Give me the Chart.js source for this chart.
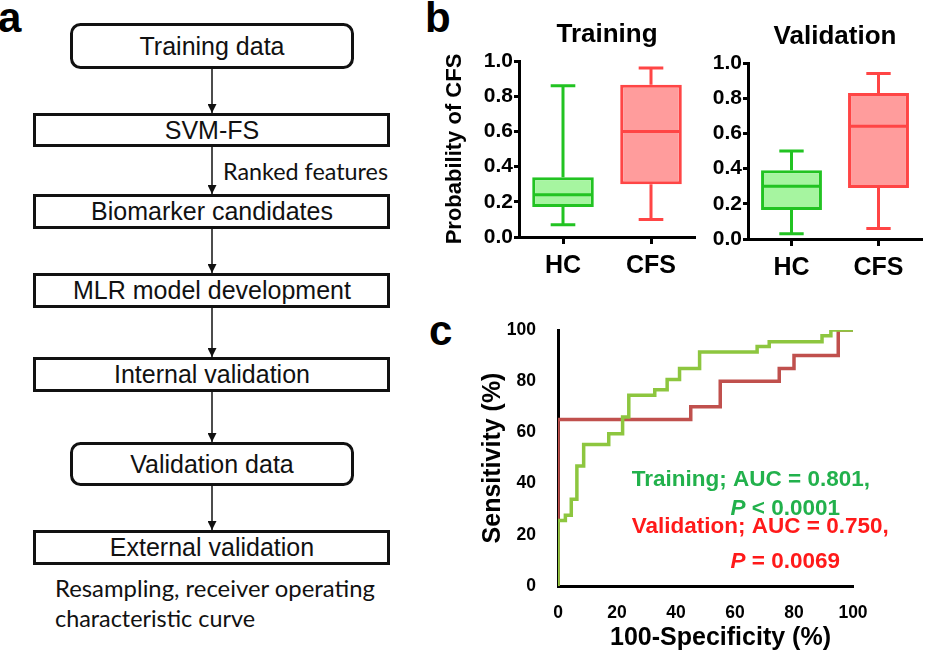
<!DOCTYPE html>
<html>
<head>
<meta charset="utf-8">
<script src="https://cdn.jsdelivr.net/npm/chart.js@4.4.1/dist/chart.umd.min.js"></script>
<style>
  html, body { margin: 0; padding: 0; background: #fff; }
  #page { position: relative; width: 926px; height: 654px; overflow: hidden; font-family: "Liberation Sans", Arial, sans-serif; }
  canvas { position: absolute; }
  .panel { position: absolute; font-weight: bold; font-size: 42px; line-height: 42px; color: #000; }
  #flow { position: absolute; left: 0; top: 0; }
</style>
</head>
<body>
<div id="page">
  <svg id="flow" width="420" height="654" xmlns="http://www.w3.org/2000/svg">
    <defs>
      <marker id="head" markerWidth="9" markerHeight="9" refX="9" refY="4.5" orient="auto" markerUnits="userSpaceOnUse">
        <path d="M0,0 L9,4.5 L0,9 z" fill="#111"/>
      </marker>
    </defs>
    <g fill="#fff" stroke="#111" stroke-width="3">
      <rect x="71.5" y="24.5" width="281" height="43" rx="9"/>
      <rect x="34.5" y="114.5" width="354" height="31"/>
      <rect x="34.5" y="195.5" width="354" height="32"/>
      <rect x="34.5" y="274.5" width="354" height="32"/>
      <rect x="34.5" y="358.5" width="354" height="32"/>
      <rect x="71.5" y="443.5" width="281" height="41" rx="9"/>
      <rect x="34.5" y="531.5" width="354" height="32"/>
    </g>
    <g stroke="#111" stroke-width="1.5" marker-end="url(#head)">
      <line x1="212" y1="69" x2="212" y2="113"/>
      <line x1="212" y1="147" x2="212" y2="194"/>
      <line x1="212" y1="229" x2="212" y2="273"/>
      <line x1="212" y1="308" x2="212" y2="357"/>
      <line x1="212" y1="392" x2="212" y2="442"/>
      <line x1="212" y1="486" x2="212" y2="530"/>
    </g>
    <g font-family="Liberation Sans, Arial, sans-serif" font-size="25" fill="#111" text-anchor="middle" dominant-baseline="central">
      <text x="212" y="46">Training data</text>
      <text x="212" y="130">SVM-FS</text>
      <text x="212" y="211">Biomarker candidates</text>
      <text x="212" y="290">MLR model development</text>
      <text x="212" y="374">Internal validation</text>
      <text x="212" y="464">Validation data</text>
      <text x="212" y="547">External validation</text>
    </g>
    <g font-family="Lato, 'Open Sans', sans-serif" font-size="24" fill="#111" dominant-baseline="central">
      <text x="223" y="170" textLength="165" lengthAdjust="spacingAndGlyphs">Ranked features</text>
      <text x="55" y="587" textLength="320" lengthAdjust="spacingAndGlyphs">Resampling, receiver operating</text>
      <text x="55" y="617" textLength="200" lengthAdjust="spacingAndGlyphs">characteristic curve</text>
    </g>
  </svg>
  <div class="panel" style="left:-2px;top:-3px">a</div>
  <div class="panel" style="left:425px;top:-3px">b</div>
  <div class="panel" style="left:429px;top:310px">c</div>
  <canvas id="trainBox" width="285" height="290" style="left:420px;top:0"></canvas>
  <canvas id="validBox" width="276" height="290" style="left:650px;top:0"></canvas>
  <canvas id="roc" width="456" height="354" style="left:470px;top:300px"></canvas>
</div>
<script>
// Box plot data: min, Q1, median, Q3, max
const groups = ['HC', 'CFS'];
const trainingHC = [0.07, 0.17, 0.24, 0.34, 0.86];
const trainingCFS = [0.10, 0.30, 0.60, 0.865, 0.96];
const validationHC = [0.03, 0.165, 0.30, 0.39, 0.50];
const validationCFS = [0.06, 0.29, 0.64, 0.83, 0.94];
const probTicks = [0, 0.2, 0.4, 0.6, 0.8, 1.0];

// ROC curves (100-specificity, sensitivity), step corners
const trainFpr = [0, 0, 2.5, 4.5, 6.4, 8.7, 17.2, 21.9, 24, 32.8, 37, 41.2, 48, 67.5, 71.6, 89.5, 92.5, 100];
const trainTpr = [0, 25.6, 27.6, 33.9, 46.9, 55.3, 59.5, 66, 74.5, 76.7, 80.7, 85, 91.4, 93.6, 95.4, 97.8, 100, 100];
const validFpr = [0, 0, 45, 55, 75, 80, 95, 100];
const validTpr = [0, 65, 70, 80, 85, 90, 100, 100];
const rocTicks = [0, 20, 40, 60, 80, 100];

const FONT = '"Liberation Sans", Arial, sans-serif';
const HC_LINE = '#22c322';
const HC_FILL = '#a6f5a0';
const CFS_LINE = '#ff4545';
const CFS_FILL = '#ff9c9c';
const ROC_GREEN = '#8dc63f';
const ROC_RED = '#c0504d';
const TXT_GREEN = '#22b14c';
const TXT_RED = '#ff1a1a';

// whiskers + median on top of the floating bars
const whiskers = {
    id: 'whiskers',
    afterDatasetsDraw(chart) {
        const ctx = chart.ctx;
        const y = chart.scales.y;
        const ds = chart.data.datasets[0];
        chart.getDatasetMeta(0).data.forEach((bar, i) => {
            const s = ds.stats[i];
            const half = bar.width / 2;
            const cap = bar.width * 0.2;
            const py = v => y.getPixelForValue(v);
            ctx.save();
            ctx.strokeStyle = ds.borderColor[i];
            ctx.lineWidth = 3;
            ctx.beginPath();
            ctx.moveTo(bar.x, py(s[3]));
            ctx.lineTo(bar.x, py(s[4]));
            ctx.moveTo(bar.x - cap, py(s[4]));
            ctx.lineTo(bar.x + cap, py(s[4]));
            ctx.moveTo(bar.x, py(s[1]));
            ctx.lineTo(bar.x, py(s[0]));
            ctx.moveTo(bar.x - cap, py(s[0]));
            ctx.lineTo(bar.x + cap, py(s[0]));
            ctx.moveTo(bar.x - half + 1.5, py(s[2]));
            ctx.lineTo(bar.x + half - 1.5, py(s[2]));
            ctx.stroke();
            ctx.restore();
        });
    }
};

function boxChart(id, title, hc, cfs, o) {
    const axisLine = { display: true, color: '#000', width: 3 };
    return new Chart(document.getElementById(id), {
        type: 'bar',
        data: {
            labels: groups,
            datasets: [{
                data: [[hc[1], hc[3]], [cfs[1], cfs[3]]],
                stats: [hc, cfs],
                backgroundColor: [HC_FILL, CFS_FILL],
                borderColor: [HC_LINE, CFS_LINE],
                borderWidth: 3,
                borderSkipped: false,
                barPercentage: 0.7,
                categoryPercentage: 1
            }]
        },
        options: {
            responsive: false,
            animation: false,
            layout: { padding: { left: 0, right: o.padRight, top: 0, bottom: 0 } },
            plugins: {
                legend: { display: false },
                tooltip: { enabled: false },
                title: {
                    display: true,
                    text: title,
                    fullSize: false,
                    color: '#000',
                    font: { family: FONT, size: 26, weight: 'bold' },
                    padding: { top: o.titleTop, bottom: o.titleBottom }
                }
            },
            scales: {
                x: {
                    grid: { display: true, drawOnChartArea: false, offset: false, tickLength: 7, tickWidth: 3, tickColor: '#000' },
                    border: axisLine,
                    ticks: { color: '#000', padding: 7, font: { family: FONT, size: 25, weight: 'bold' } },
                    afterFit: s => { s.height = o.xHeight; }
                },
                y: {
                    min: 0,
                    max: 1,
                    afterBuildTicks: s => { s.ticks = probTicks.map(v => ({ value: v })); },
                    grid: { display: true, drawOnChartArea: false, tickLength: 5, tickWidth: 3, tickColor: '#000' },
                    border: axisLine,
                    ticks: { color: '#000', padding: 1, callback: v => v.toFixed(1), font: { family: FONT, size: 21, weight: 'bold' } },
                    title: {
                        display: o.yTitle !== '',
                        text: o.yTitle,
                        color: '#000',
                        font: { family: FONT, size: 22, weight: 'bold' },
                        padding: { top: 22, bottom: 0 }
                    },
                    afterFit: s => { s.width = o.yWidth; }
                }
            }
        },
        plugins: [whiskers]
    });
}

boxChart('trainBox', 'Training', trainingHC, trainingCFS,
    { padRight: 10, titleTop: 19.4, titleBottom: 10.4, xHeight: 53, yWidth: 99, yTitle: 'Probability of CFS' });
boxChart('validBox', 'Validation', validationHC, validationCFS,
    { padRight: 4, titleTop: 21.4, titleBottom: 10.4, xHeight: 51, yWidth: 98, yTitle: '' });

// ROC annotations, anchored in data units
const rocNotes = [
    { runs: [['Training; AUC = 0.801,', '']], x: 25, y: 41.5, align: 'left', color: TXT_GREEN },
    { runs: [['P', 'italic '], [' < 0.0001', '']], x: 95.6, y: 30, align: 'right', color: TXT_GREEN },
    { runs: [['Validation; AUC = 0.750,', '']], x: 25, y: 23, align: 'left', color: TXT_RED },
    { runs: [['P', 'italic '], [' = 0.0069', '']], x: 95.6, y: 9.5, align: 'right', color: TXT_RED }
];

const rocText = {
    id: 'rocText',
    afterDraw(chart) {
        const { ctx, chartArea, scales: { x, y } } = chart;
        ctx.save();
        ctx.textBaseline = 'middle';
        ctx.textAlign = 'left';
        rocNotes.forEach(n => {
            const widths = n.runs.map(r => {
                ctx.font = r[1] + 'bold 22.5px ' + FONT;
                return ctx.measureText(r[0]).width;
            });
            const total = widths.reduce((a, b) => a + b, 0);
            let px = x.getPixelForValue(n.x) - (n.align === 'right' ? total : 0);
            const py = y.getPixelForValue(n.y);
            ctx.fillStyle = n.color;
            n.runs.forEach((r, i) => {
                ctx.font = r[1] + 'bold 22.5px ' + FONT;
                ctx.fillText(r[0], px, py);
                px += widths[i];
            });
        });
        // x axis caption
        ctx.fillStyle = '#000';
        ctx.textAlign = 'center';
        ctx.font = 'bold 25px ' + FONT;
        ctx.fillText('100-Specificity (%)', (chartArea.left + chartArea.right) / 2 + 15, chartArea.bottom + 52);
        ctx.restore();
    }
};

const rocAxisLine = { display: true, color: '#000', width: 3 };
new Chart(document.getElementById('roc'), {
    type: 'line',
    data: {
        datasets: [
            {
                label: 'Training',
                data: trainFpr.map((v, i) => ({ x: v, y: trainTpr[i] })),
                borderColor: ROC_GREEN,
                borderWidth: 3.5,
                pointRadius: 0,
                stepped: true,
                fill: false
            },
            {
                label: 'Validation',
                data: validFpr.map((v, i) => ({ x: v, y: validTpr[i] })),
                borderColor: ROC_RED,
                borderWidth: 3.5,
                pointRadius: 0,
                stepped: true,
                fill: false
            }
        ]
    },
    options: {
        responsive: false,
        animation: false,
        layout: { padding: { left: 0, right: 73, top: 30, bottom: 0 } },
        plugins: { legend: { display: false }, tooltip: { enabled: false } },
        scales: {
            x: {
                type: 'linear',
                min: 0,
                max: 100,
                afterBuildTicks: s => { s.ticks = rocTicks.map(v => ({ value: v })); },
                grid: { display: false },
                border: rocAxisLine,
                ticks: { color: '#000', padding: 9, maxRotation: 0, font: { family: FONT, size: 17.5, weight: 'bold' } },
                afterFit: s => { s.height = 68; }
            },
            y: {
                type: 'linear',
                min: 0,
                max: 100,
                afterBuildTicks: s => { s.ticks = rocTicks.map(v => ({ value: v })); },
                grid: { display: false },
                border: rocAxisLine,
                ticks: { color: '#000', padding: 14, font: { family: FONT, size: 17.5, weight: 'bold' } },
                title: {
                    display: true,
                    text: 'Sensitivity (%)',
                    color: '#000',
                    font: { family: FONT, size: 25, weight: 'bold' },
                    padding: { top: 8, bottom: 0 }
                },
                afterFit: s => { s.width = 88; }
            }
        }
    },
    plugins: [rocText]
});
</script>
</body>
</html>
